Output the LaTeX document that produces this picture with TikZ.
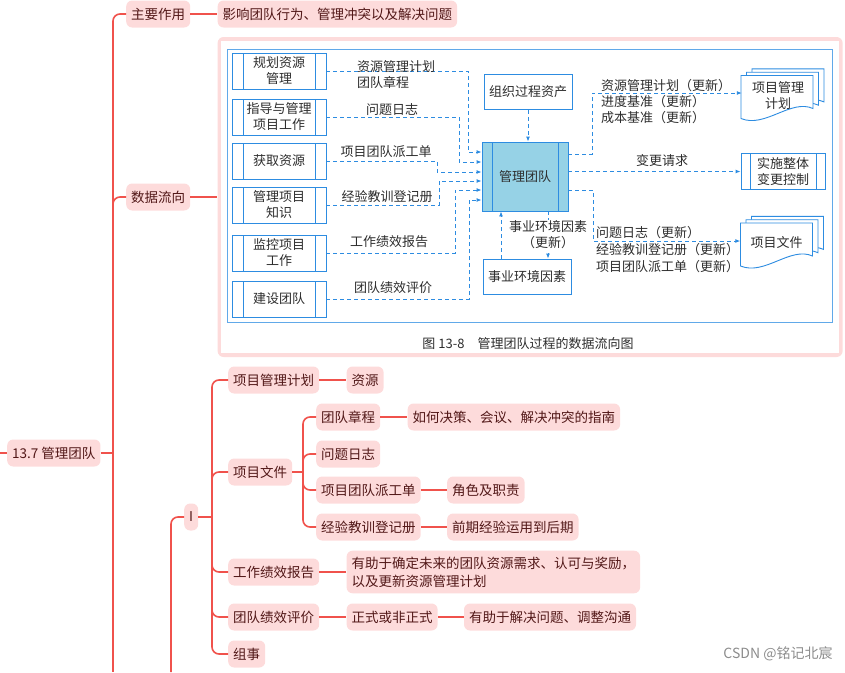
\documentclass[tikz,border=0pt]{standalone}
\usepackage{fontspec}
\setmainfont{Noto Sans CJK SC}
\usetikzlibrary{positioning,arrows.meta}
\definecolor{linkred}{RGB}{240,82,76}
\definecolor{nodepink}{RGB}{253,219,219}
\definecolor{nodetext}{RGB}{82,24,24}
\definecolor{figblue}{RGB}{45,140,225}
\definecolor{boxfill}{RGB}{150,210,230}
\definecolor{figtext}{RGB}{45,45,45}
\newcommand{\docsheet}[2]{\draw[figblue, line width=0.9pt, fill=white] (#1-36,#2-21) -- (#1+36,#2-21) -- (#1+36,#2+12) .. controls (#1+14,#2+2) and (#1-12,#2+32) .. (#1-36,#2+22) -- cycle;}
\newcommand{\docstack}[2]{\docsheet{#1+11}{#2-6.6}\docsheet{#1+5.5}{#2-3.3}\docsheet{#1}{#2}}
\begin{document}
\begin{tikzpicture}[x=1pt, y=-1pt,
  mm/.style={fill=nodepink, rounded corners=6pt, text=nodetext, font=\fontsize{13.5}{18}\selectfont, minimum height=27pt, inner xsep=5pt, inner ysep=3pt},
  link/.style={draw=linkred, line width=1.6pt, rounded corners=7pt},
  fig/.style={font=\fontsize{13}{16}\selectfont, text=figtext},
  box/.style={fig, draw=figblue, line width=0.9pt, fill=white, align=center, minimum width=88pt, minimum height=35pt},
  proc/.style={box, minimum width=94pt, minimum height=36pt, path picture={\draw[figblue, line width=0.9pt] ([xshift=#1]path picture bounding box.north west) -- ([xshift=#1]path picture bounding box.south west) ([xshift=-#1]path picture bounding box.north east) -- ([xshift=-#1]path picture bounding box.south east);}},
  proc/.default=11pt,
  flow/.style={draw=figblue, line width=0.9pt, dash pattern=on 4pt off 3pt, -{Latex[length=5pt,width=4pt]}}]
\useasboundingbox (0,0) rectangle (845,672);

\node[mm, anchor=west] (root) at (7,453) {13.7 管理团队};
\node[mm, anchor=west] (role) at (126,14) {主要作用};
\node[mm, right=27pt of role] (roletxt) {影响团队行为、管理冲突以及解决问题};
\node[mm, anchor=west] (dir) at (126,197) {数据流向};
\node[fill=nodepink, rounded corners=6pt, minimum width=625pt, minimum height=320pt, right=27pt of dir] (img) {};
\fill[white] ([shift={(4pt,-4pt)}]img.north west) rectangle ([shift={(-4pt,4pt)}]img.south east);

\node[mm, anchor=west] (I) at (184,517) {I};
\node[mm, anchor=west] (pmp) at (228,380) {项目管理计划};
\node[mm, right=27pt of pmp] (res) {资源};
\node[mm, anchor=west] (pd) at (228,472) {项目文件};
\node[mm, anchor=west] (tc) at (316,417) {团队章程};
\node[mm, right=27pt of tc] (guide) {如何决策、会议、解决冲突的指南};
\node[mm, anchor=west] (il) at (316,454) {问题日志};
\node[mm, anchor=west] (ta) at (316,490) {项目团队派工单};
\node[mm, right=26pt of ta] (rr) {角色及职责};
\node[mm, anchor=west] (ll) at (316,527) {经验教训登记册};
\node[mm, right=26pt of ll] (prior) {前期经验运用到后期};
\node[mm, anchor=west] (wpr) at (228,572) {工作绩效报告};
\node[mm, right=27pt of wpr, align=left, inner ysep=6pt] (help) {有助于确定未来的团队资源需求、认可与奖励，\\以及更新资源管理计划};
\node[mm, anchor=west] (tpa) at (228,617) {团队绩效评价};
\node[mm, right=27pt of tpa] (formal) {正式或非正式};
\node[mm, right=26pt of formal] (solve) {有助于解决问题、调整沟通};
\node[mm, anchor=west] (org) at (228,654) {组事};

\coordinate (up) at (0,453);
\coordinate (rt) at (113,453);
\coordinate (rbot) at (113,672);
\coordinate (ibot) at (171,672);
\coordinate (it) at (212,517);
\coordinate (pt) at (303,472);
\draw[link] (up) -- (root.west);
\draw[link] (root.east) -- (rt);
\draw[link] (rt) |- (role.west);
\draw[link] (rt) |- (dir.west);
\draw[link] (rt) -- (rbot);
\draw[link] (role) -- (roletxt);
\draw[link] (dir) -- (img);
\draw[link] (ibot) |- (I.west);
\draw[link] (I.east) -- (it);
\foreach \n in {pmp,pd,wpr,tpa,org}
  \draw[link] (it) |- (\n.west);
\draw[link] (pd.east) -- (pt);
\foreach \n in {tc,il,ta,ll}
  \draw[link] (pt) |- (\n.west);
\draw[link] (pmp) -- (res);
\draw[link] (tc) -- (guide);
\draw[link] (ta) -- (rr);
\draw[link] (ll) -- (prior);
\draw[link] (wpr) -- (help);
\draw[link] (tpa) -- (formal);
\draw[link] (formal) -- (solve);

\draw[figblue!75, line width=0.9pt] (227,49) rectangle (832,322);
\node[proc] (plan) at (279,71) {规划资源\\管理};
\node[proc] (direct) at (279,117) {指导与管理\\项目工作};
\node[proc] (acq) at (279,161) {获取资源};
\node[proc] (kn) at (279,205) {管理项目\\知识};
\node[proc] (mon) at (279,253) {监控项目\\工作};
\node[proc] (dev) at (279,299) {建设团队};
\node[proc=10pt, fill=boxfill, minimum width=86pt, minimum height=69pt] (mt) at (525,176.5) {管理团队};
\node[box] (opa) at (528,92) {组织过程资产};
\node[box] (eef) at (527,276.5) {事业环境因素};
\node[proc=9pt, minimum width=84pt] (icc) at (783,171.5) {实施整体\\变更控制};
\docstack{777}{96.5}
\node[fig, align=center, minimum width=72pt] (pmpdoc) at (778,95.5) {项目管理\\计划};
\docstack{776.5}{244}
\node[fig, minimum width=72pt] (pdoc) at (776.5,243) {项目文件};

\draw[flow] (plan.east) -- ++(142,0) |- ([yshift=24.5pt]mt.west);
\draw[flow] (direct.east) -- ++(133,0) |- ([yshift=14.5pt]mt.west);
\draw[flow] (acq.east) -- ++(111,0) |- ([yshift=4.5pt]mt.west);
\draw[flow] (kn.east) -- ++(113,0) |- ([yshift=-4.5pt]mt.west);
\draw[flow] (mon.east) -- ++(129,0) |- ([yshift=-13.5pt]mt.west);
\draw[flow] (dev.east) -- ++(143,0) |- ([yshift=-23.5pt]mt.west);
\node[fig, anchor=west, align=left, inner sep=0pt] (l1) at (357,75) {资源管理计划\\团队章程};
\node[fig, inner sep=0pt] (l2) at (392,110) {问题日志};
\node[fig, inner sep=0pt] (l3) at (386,152) {项目团队派工单};
\node[fig, inner sep=0pt] (l4) at (387,197) {经验教训登记册};
\node[fig, inner sep=0pt] (l5) at (389,242) {工作绩效报告};
\node[fig, inner sep=0pt] (l6) at (393,288) {团队绩效评价};

\draw[flow] (opa.south) -- (opa.south |- mt.north);
\coordinate (e1) at ([xshift=-26pt]eef.north);
\coordinate (m1) at ([xshift=23pt]mt.south);
\draw[flow] (e1) -- (e1 |- mt.south);
\draw[flow] (m1) -- node[fig, fill=white, inner sep=1pt, align=center] (l7) {事业环境因素\\（更新）} (m1 |- eef.north);

\draw[flow] ([yshift=22.5pt]mt.east) -- ++(24,0) |- ([yshift=2.5pt]pmpdoc.west);
\draw[flow] ([yshift=5pt]mt.east) -- (icc.west);
\draw[flow] ([yshift=-13.5pt]mt.east) -- ++(25,0) |- ([yshift=2pt]pdoc.west);
\node[fig, anchor=west, align=left, inner sep=0pt] (l8) at (601,102) {资源管理计划（更新）\\进度基准（更新）\\成本基准（更新）};
\node[fig, inner sep=0pt] (l9) at (662,161) {变更请求};
\node[fig, anchor=west, align=left, inner sep=0pt, font=\fontsize{13}{17}\selectfont] (l10) at (596,250) {问题日志（更新）\\经验教训登记册（更新）\\项目团队派工单（更新）};
\node[fig] (cap) at (528,344) {图 13-8\quad 管理团队过程的数据流向图};

\node[text=black!45, font=\fontsize{14}{16}\selectfont] (mark) at (778,654) {CSDN @铭记北宸};
\end{tikzpicture}
\end{document}
